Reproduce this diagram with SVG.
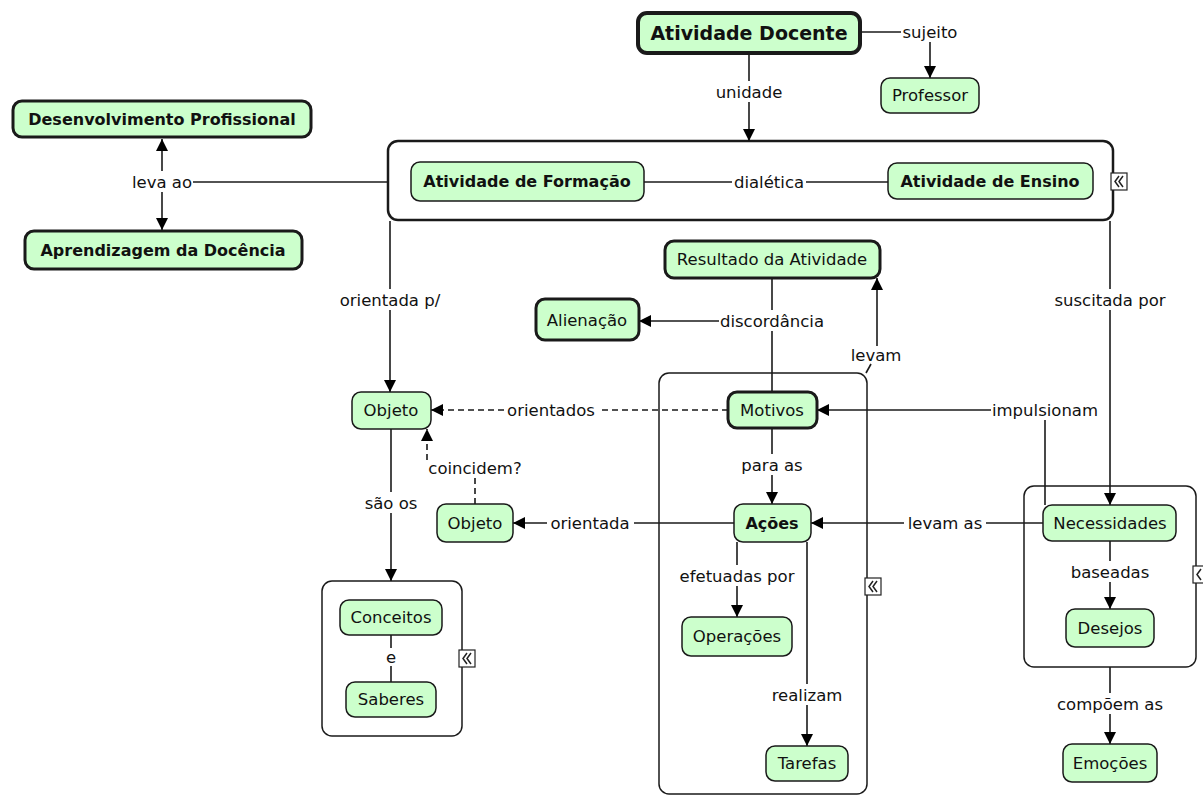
<svg xmlns="http://www.w3.org/2000/svg" width="1203" height="796" viewBox="0 0 1203 796">
<defs>
<marker id="arr" viewBox="0 0 12 12" refX="12" refY="6" markerWidth="12" markerHeight="12" markerUnits="userSpaceOnUse" orient="auto-start-reverse"><path d="M0,0 L12,6 L0,12 z" fill="#000"/></marker>
<style>
.n rect{fill:#ccffcc;stroke:#1a1a1a;stroke-width:1.5}
.n.t rect{stroke-width:3}
.n.x rect{stroke-width:4}
text{font-family:"DejaVu Sans",Verdana,sans-serif;font-size:16.5px;fill:#111;text-anchor:middle}
.b{font-weight:bold;font-size:16px}
.g{fill:#fff;stroke:#1a1a1a;stroke-width:1.5}
.c path{fill:none;stroke:#1a1a1a;stroke-width:1.6}
.c path.a{marker-end:url(#arr)}
.c path.d{stroke-dasharray:6,4}
.ic rect{fill:#fff;stroke:#222;stroke-width:1.2}
.ic path{fill:none;stroke:#222;stroke-width:1.5}
</style>
</defs>
<rect width="1203" height="796" fill="#fff"/>

<!-- groups (containers) -->
<g id="grupo-atividades">
<rect class="g" x="388" y="141" width="725" height="79" rx="10" style="stroke-width:2.5"/>
<g class="ic"><rect x="1111" y="173" width="16" height="17"/><path d="M1119,176 L1115,181.5 L1119,187 M1123,176 L1119,181.5 L1123,187"/></g>
</g>
<g id="grupo-motivos">
<rect class="g" x="659" y="373" width="208" height="421" rx="10"/>
<g class="ic"><rect x="865" y="578" width="16" height="17"/><path d="M873,581 L869,586.5 L873,592 M877,581 L873,586.5 L877,592"/></g>
</g>
<g id="grupo-conceitos">
<rect class="g" x="322" y="581" width="140" height="155" rx="10"/>
<g class="ic"><rect x="459" y="650" width="16" height="17"/><path d="M467,653 L463,658.5 L467,664 M471,653 L467,658.5 L471,664"/></g>
</g>
<g id="grupo-necessidades">
<rect class="g" x="1024" y="486" width="172" height="181" rx="10"/>
<g class="ic"><rect x="1193" y="566" width="16" height="17"/><path d="M1201,569 L1197,574.5 L1201,580"/></g>
</g>

<!-- connectors -->
<g id="connectors" class="c">
<path d="M861,32 H901"/>
<path class="a" d="M930,42 V78"/>
<path d="M749,53 V81"/>
<path class="a" d="M749,102 V141"/>
<path d="M162,139 V171" style="marker-start:url(#arr)"/>
<path class="a" d="M162,192 V230"/>
<path d="M193,182 H388"/>
<path d="M644,182 H732"/>
<path d="M806,182 H888"/>
<path d="M390,221 V289"/>
<path class="a" d="M390,310 V392"/>
<path d="M1110,221 V289"/>
<path class="a" d="M1110,310 V505"/>
<path d="M772,278 V310"/>
<path d="M772,331 V392"/>
<path class="a" d="M719,321 H639"/>
<path d="M866,373 L871,364"/>
<path class="a" d="M877,346 V278"/>
<path class="d" d="M728,410 H598"/>
<path class="a d" d="M504,410 H431"/>
<path class="a" d="M991,410 H817"/>
<path d="M1045,420 V505"/>
<path d="M772,428 V454"/>
<path class="a" d="M772,475 V504"/>
<path d="M1043,523 H986"/>
<path class="a" d="M904,523 H811"/>
<path d="M734,523 H634"/>
<path class="a" d="M547,523 H513"/>
<path class="d" d="M475,504 V478"/>
<path class="a d" d="M427,460 V429"/>
<path d="M391,429 V492"/>
<path class="a" d="M391,513 V581"/>
<path d="M391,635 V648"/>
<path d="M391,666 V682"/>
<path d="M737,542 V565"/>
<path class="a" d="M737,586 V617"/>
<path d="M807,542 V684"/>
<path class="a" d="M807,705 V746"/>
<path d="M1110,541 V561"/>
<path class="a" d="M1110,582 V609"/>
<path d="M1110,667 V693"/>
<path class="a" d="M1110,714 V744"/>
</g>

<!-- link labels -->
<g id="labels">
<text x="930" y="38">sujeito</text>
<text x="749" y="98">unidade</text>
<text x="162" y="188">leva ao</text>
<text x="769" y="188">dialética</text>
<text x="390" y="306">orientada p/</text>
<text x="1110" y="306">suscitada por</text>
<text x="772" y="327">discordância</text>
<text x="876" y="361">levam</text>
<text x="551" y="416">orientados</text>
<text x="1045" y="416">impulsionam</text>
<text x="772" y="471">para as</text>
<text x="945" y="529">levam as</text>
<text x="590" y="529">orientada</text>
<text x="475" y="474">coincidem?</text>
<text x="391" y="509">são os</text>
<text x="391" y="663">e</text>
<text x="737" y="582">efetuadas por</text>
<text x="807" y="701">realizam</text>
<text x="1110" y="578">baseadas</text>
<text x="1110" y="710">compõem as</text>
</g>

<!-- nodes -->
<g id="atividade-docente" class="n x"><rect x="638" y="13" width="222" height="40" rx="9"/><text class="b" x="749" y="40" style="font-size:19px">Atividade Docente</text></g>
<g id="professor" class="n"><rect x="881" y="78" width="98" height="35" rx="9"/><text x="930" y="101">Professor</text></g>
<g id="desenvolvimento" class="n t"><rect x="13" y="101" width="298" height="36" rx="9"/><text class="b" x="162" y="125">Desenvolvimento Profissional</text></g>
<g id="aprendizagem" class="n t"><rect x="25" y="231" width="277" height="38" rx="9"/><text class="b" x="163" y="256">Aprendizagem da Docência</text></g>
<g id="atividade-formacao" class="n"><rect x="411" y="162" width="233" height="39" rx="9"/><text class="b" x="527" y="187">Atividade de Formação</text></g>
<g id="atividade-ensino" class="n"><rect x="888" y="163" width="205" height="36" rx="9"/><text class="b" x="990" y="187">Atividade de Ensino</text></g>
<g id="resultado" class="n t"><rect x="665" y="241" width="215" height="37" rx="9"/><text x="772" y="265">Resultado da Atividade</text></g>
<g id="alienacao" class="n t"><rect x="536" y="299" width="103" height="41" rx="9"/><text x="587" y="326">Alienação</text></g>
<g id="motivos" class="n t"><rect x="728" y="392" width="89" height="36" rx="9"/><text x="772" y="416">Motivos</text></g>
<g id="objeto1" class="n"><rect x="352" y="392" width="79" height="37" rx="9"/><text x="391" y="416">Objeto</text></g>
<g id="objeto2" class="n"><rect x="437" y="504" width="76" height="38" rx="9"/><text x="475" y="529">Objeto</text></g>
<g id="acoes" class="n"><rect x="734" y="504" width="77" height="38" rx="9"/><text class="b" x="772" y="529">Ações</text></g>
<g id="necessidades" class="n"><rect x="1043" y="505" width="133" height="36" rx="9"/><text x="1110" y="529">Necessidades</text></g>
<g id="desejos" class="n"><rect x="1066" y="609" width="88" height="38" rx="9"/><text x="1110" y="634">Desejos</text></g>
<g id="emocoes" class="n"><rect x="1063" y="744" width="94" height="38" rx="9"/><text x="1110" y="769">Emoções</text></g>
<g id="operacoes" class="n"><rect x="682" y="617" width="110" height="39" rx="9"/><text x="737" y="642">Operações</text></g>
<g id="tarefas" class="n"><rect x="766" y="746" width="82" height="35" rx="9"/><text x="807" y="769">Tarefas</text></g>
<g id="conceitos" class="n"><rect x="340" y="600" width="102" height="35" rx="9"/><text x="391" y="623">Conceitos</text></g>
<g id="saberes" class="n"><rect x="346" y="682" width="90" height="35" rx="9"/><text x="391" y="705">Saberes</text></g>
</svg>
